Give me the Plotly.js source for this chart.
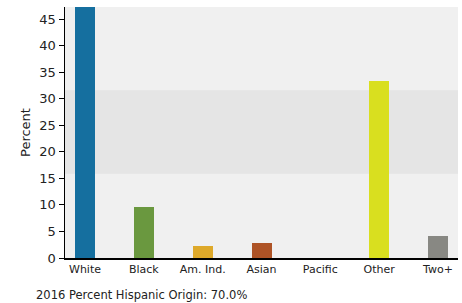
<!DOCTYPE html>
<html>
<head>
<meta charset="utf-8">
<script src="https://cdn.plot.ly/plotly-3.0.1.min.js"></script>
<style>html,body{margin:0;padding:0;background:#fff;}#chart{width:462px;height:303px;}</style>
</head>
<body>
<div id="chart"></div>
<script>
const categories = ["White", "Black", "Am. Ind.", "Asian", "Pacific", "Other", "Two+"];
const percents = [47.6, 9.7, 2.3, 2.9, 0.0, 33.3, 4.2];
const barColors = ["#156f9f", "#6a983f", "#dea92a", "#ae5326", "#7a5a9a", "#d9df1f", "#888883"];
const bandRange = [15.9, 31.6];
const noteText = "2016 Percent Hispanic Origin: 70.0%";

const trace = {
  type: "bar",
  x: categories,
  y: percents,
  marker: {color: barColors},
  width: 0.34,
  hoverinfo: "x+y"
};

const layout = {
  width: 462, height: 303,
  margin: {l: 65, r: 4, t: 7, b: 45},
  paper_bgcolor: "#ffffff",
  plot_bgcolor: "#f0f0f0",
  font: {family: "DejaVu Sans, Verdana, sans-serif", color: "#222222", size: 11},
  showlegend: false,
  bargap: 0,
  xaxis: {
    type: "category",
    range: [-0.34, 6.34],
    showgrid: false,
    zeroline: false,
    showline: true, linecolor: "#000000", linewidth: 2,
    ticks: "",
    tickfont: {size: 11, color: "#222222"},
    fixedrange: true
  },
  yaxis: {
    range: [0, 47.3],
    dtick: 5, tick0: 0,
    showgrid: false,
    zeroline: false,
    showline: true, linecolor: "#000000", linewidth: 1.5,
    ticks: "outside", ticklen: 5, tickcolor: "#000000", tickwidth: 1,
    tickfont: {size: 13, color: "#222222"},
    title: {text: "Percent", font: {size: 13, color: "#222222"}, standoff: 6},
    fixedrange: true
  },
  shapes: [{
    type: "rect", xref: "paper", yref: "y",
    x0: 0, x1: 1, y0: bandRange[0], y1: bandRange[1],
    fillcolor: "#e5e5e5", line: {width: 0}, layer: "below"
  }],
  annotations: [{
    text: noteText, xref: "paper", yref: "paper",
    x: -0.08, y: -0.147, xanchor: "left", yanchor: "middle",
    showarrow: false, font: {size: 11.5, color: "#222222"}
  }]
};

Plotly.newPlot("chart", [trace], layout, {displayModeBar: false, staticPlot: true});
</script>
</body>
</html>
